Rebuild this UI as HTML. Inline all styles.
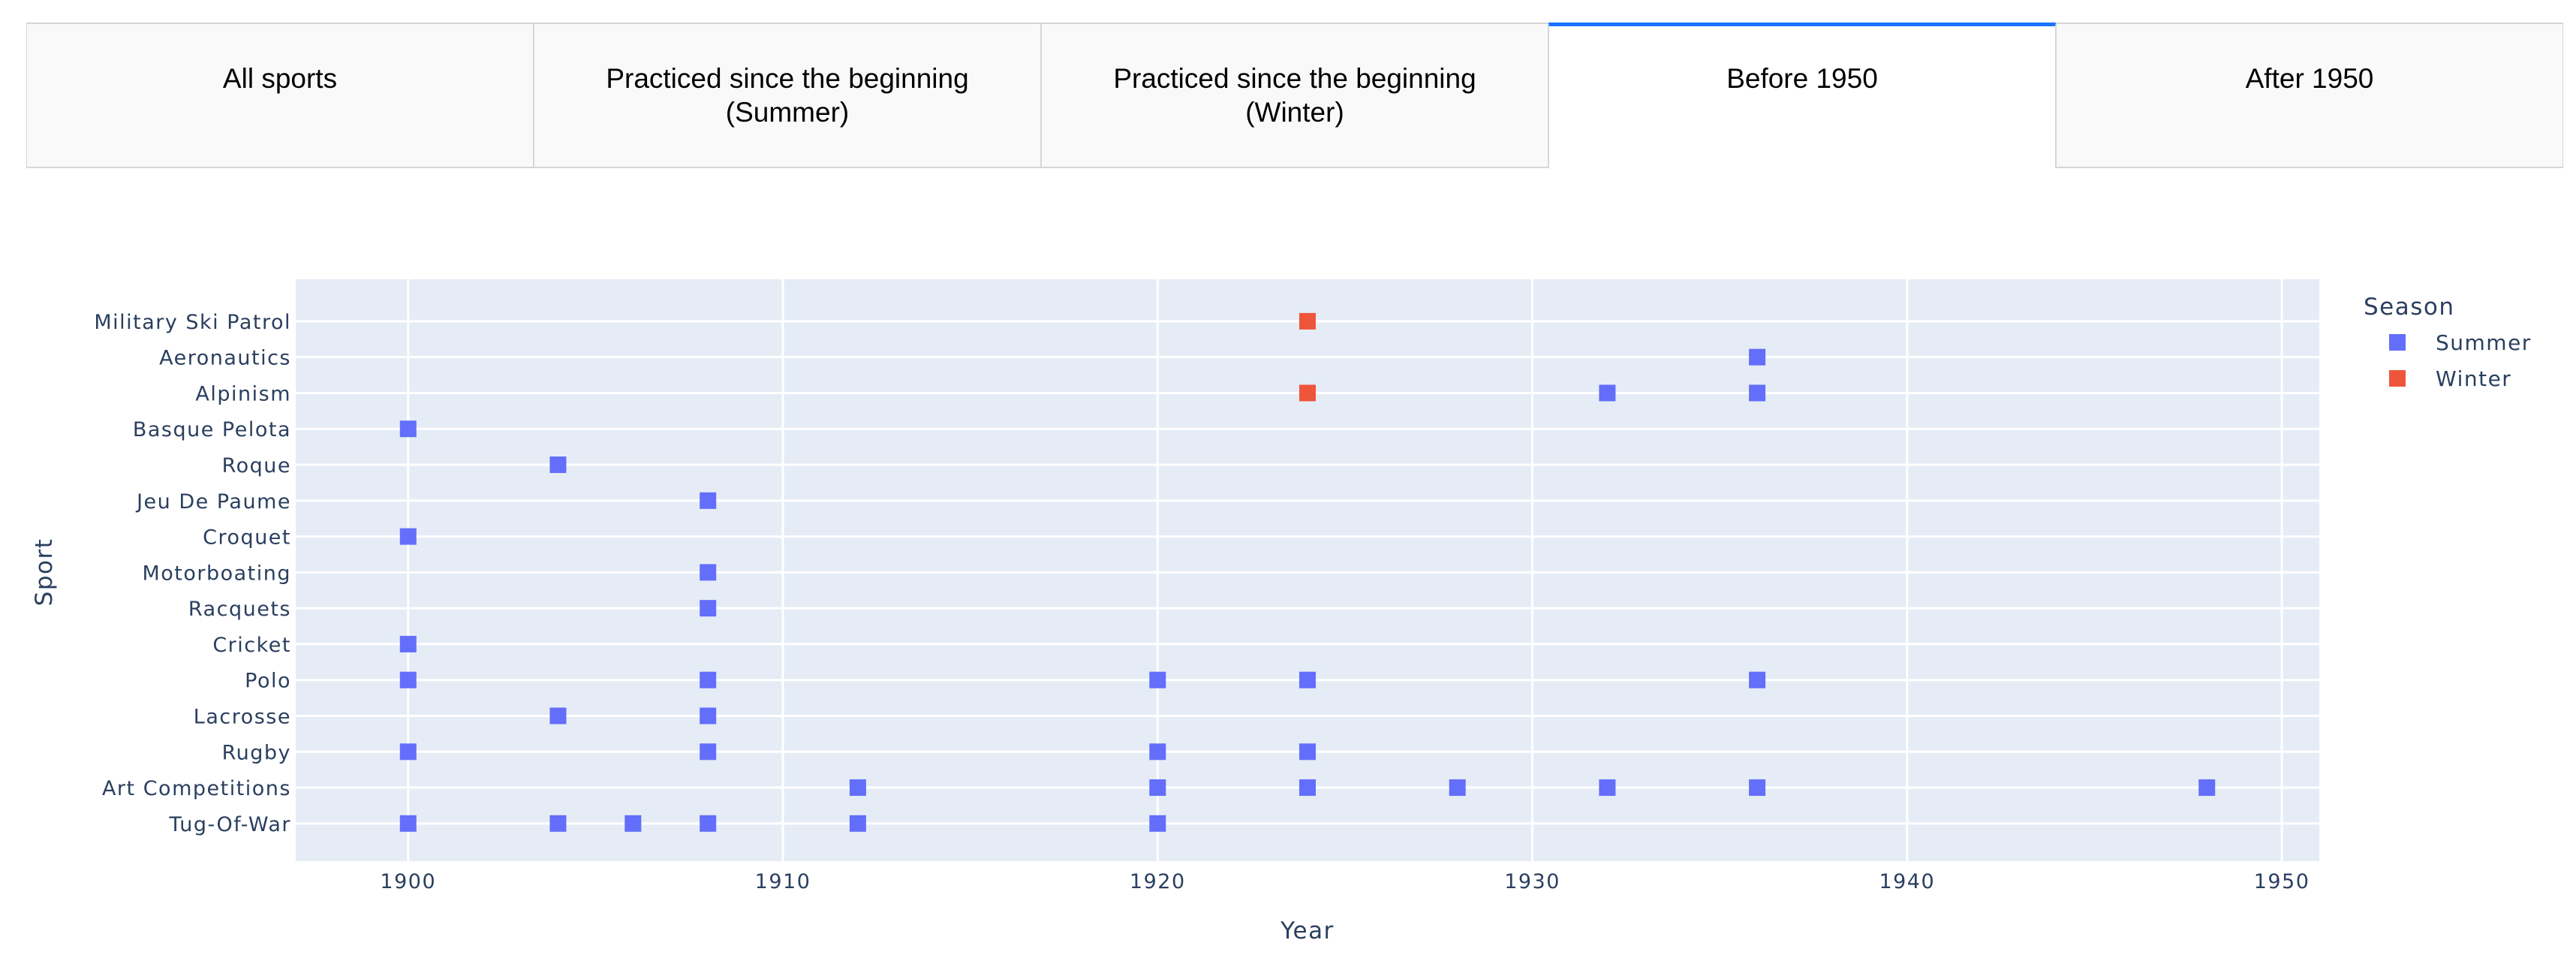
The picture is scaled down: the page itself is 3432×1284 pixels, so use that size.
<!DOCTYPE html>
<html><head><meta charset="utf-8"><style>
html,body{margin:0;padding:0;background:#fff;width:3432px;height:1284px;overflow:hidden}
.tabs{position:absolute;left:35px;top:30px;width:3380px;height:194px;display:flex}
.tab{flex:1;box-sizing:border-box;border:2px solid #d6d6d6;border-left-width:1px;border-right-width:1px;background:#f9f9f9;display:flex;align-items:flex-start;justify-content:center;text-align:center;font-family:"Liberation Sans",Arial,sans-serif;font-size:37px;line-height:45px;color:#000;padding-top:50px}
.tab.sel{background:#fff;border-top:5px solid #1975fa;border-bottom:none;padding-top:47px}
svg{position:absolute;left:0;top:0}
text{font-family:"DejaVu Sans","Liberation Sans",sans-serif;fill:#2a3f5f}
.tk{letter-spacing:1.5px}
</style></head><body>
<div class="tabs">
<div class="tab">All sports</div>
<div class="tab">Practiced since the beginning<br>(Summer)</div>
<div class="tab">Practiced since the beginning<br>(Winter)</div>
<div class="tab sel">Before 1950</div>
<div class="tab">After 1950</div>
</div>
<svg id="chart" width="3432" height="1284"></svg>
<script>
const sports = ["Tug-Of-War","Art Competitions","Rugby","Lacrosse","Polo","Cricket","Racquets","Motorboating","Croquet","Jeu De Paume","Roque","Basque Pelota","Alpinism","Aeronautics","Military Ski Patrol"];
const summerSport = ["Tug-Of-War","Tug-Of-War","Tug-Of-War","Tug-Of-War","Tug-Of-War","Tug-Of-War","Art Competitions","Art Competitions","Art Competitions","Art Competitions","Art Competitions","Art Competitions","Art Competitions","Rugby","Rugby","Rugby","Rugby","Lacrosse","Lacrosse","Polo","Polo","Polo","Polo","Polo","Cricket","Racquets","Motorboating","Croquet","Jeu De Paume","Roque","Basque Pelota","Alpinism","Alpinism","Aeronautics"];
const summerYear = [1900,1904,1906,1908,1912,1920,1912,1920,1924,1928,1932,1936,1948,1900,1908,1920,1924,1904,1908,1900,1908,1920,1924,1936,1900,1908,1908,1900,1908,1904,1900,1932,1936,1936];
const winterSport = ["Military Ski Patrol","Alpinism"];
const winterYear = [1924,1924];
const xTicks = [1900,1910,1920,1930,1940,1950];

const svg = document.getElementById('chart');
const NS = 'http://www.w3.org/2000/svg';
const L=394,R=3090,T=372,B=1147;
const x0=1897.0,x1=1951.0,y0=-1.05,y1=15.17;
const X=v=>L+(v-x0)/(x1-x0)*(R-L);
const Y=i=>B-(i-y0)/(y1-y0)*(B-T);
function mk(tag,attrs,txt){const e=document.createElementNS(NS,tag);for(const k in attrs)e.setAttribute(k,attrs[k]);if(txt!=null)e.textContent=txt;svg.appendChild(e);return e;}

const bg=mk('rect',{x:L,y:T,width:R-L,height:B-T,fill:'#e5ecf6'});



sports.forEach((s,i)=>{
  const g=mk('line',{x1:L,x2:R,y1:Y(i),y2:Y(i),stroke:'#fff','stroke-width':3});
  
  
  const t=mk('text',{x:L-6,y:Y(i)+10,'text-anchor':'end','font-size':27,class:'tk'},s);
  
  
});
xTicks.forEach(v=>{
  const g=mk('line',{x1:X(v),x2:X(v),y1:T,y2:B,stroke:'#fff','stroke-width':3});
  
  
  const t=mk('text',{x:X(v),y:1183,'text-anchor':'middle','font-size':27,class:'tk'},String(v));
  
  
});
function pts(sp,yr,color,name){
  sp.forEach((s,k)=>{
    const i=sports.indexOf(s);
    const r=mk('rect',{x:X(yr[k])-11,y:Y(i)-11,width:22,height:22,fill:color});
    
    
  });
}
pts(summerSport,summerYear,'#636efa','summer-point');
pts(winterSport,winterYear,'#ef553b','winter-point');

const xt=mk('text',{x:(L+R)/2,y:1250,'text-anchor':'middle','font-size':31,class:'tk'},'Year');


const yt=mk('text',{x:0,y:0,'text-anchor':'middle','font-size':31,class:'tk',transform:'translate(69,762) rotate(-90)'},'Sport');



const lt=mk('text',{x:3149,y:419,'font-size':31,class:'tk'},'Season');


[['Summer','#636efa',456],['Winter','#ef553b',504]].forEach(([n,c,y])=>{
  const r=mk('rect',{x:3183,y:y-11,width:22,height:22,fill:c});
  
  
  const t=mk('text',{x:3245,y:y+10,'font-size':28,class:'tk'},n);
  
  
});
</script>
</body></html>
